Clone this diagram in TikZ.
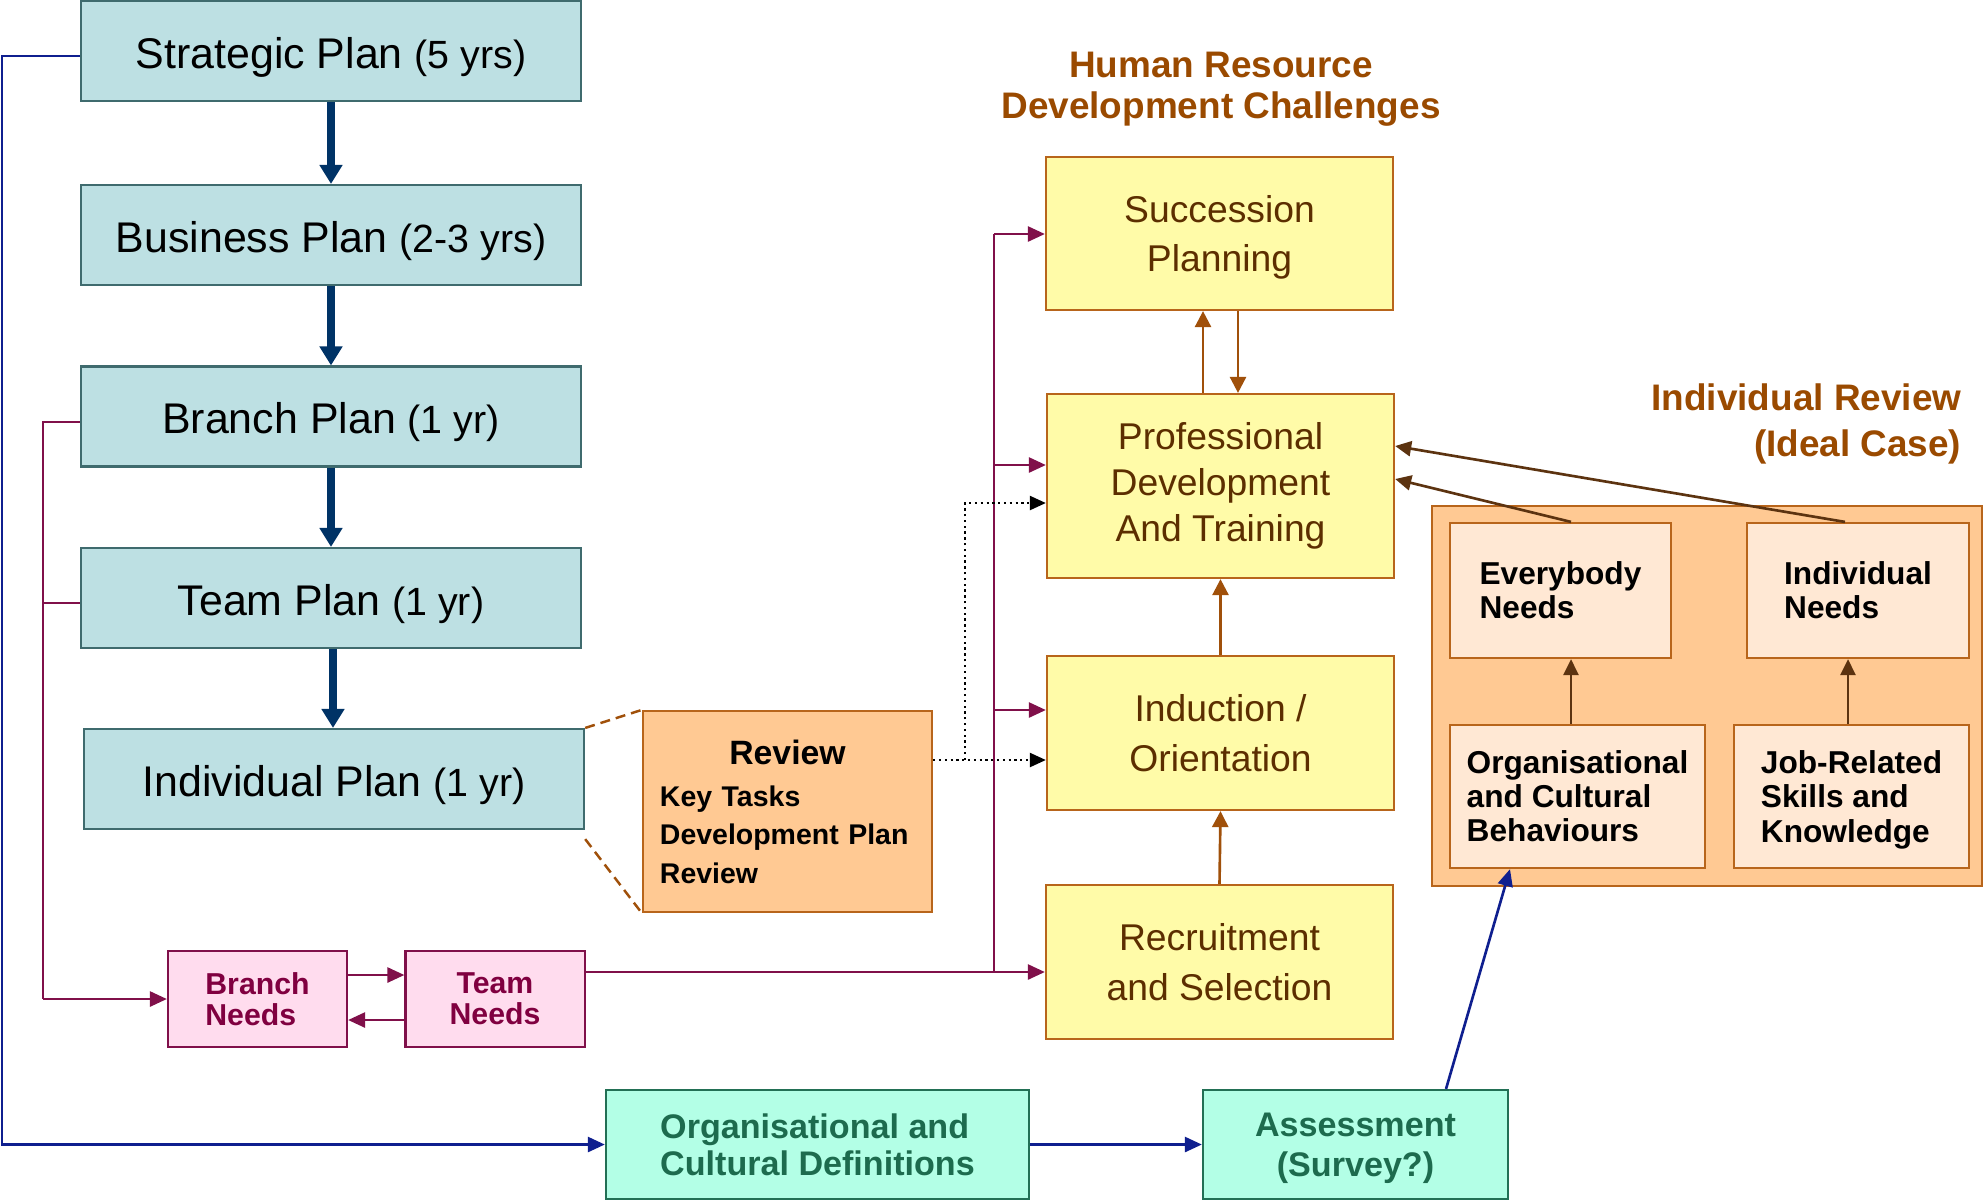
\documentclass[tikz,border=0pt]{standalone}
\usepackage{fontspec}
\setmainfont{Liberation Sans}
\usetikzlibrary{arrows.meta}

\definecolor{planfill}{HTML}{BDE0E3}
\definecolor{plandraw}{HTML}{3F6B6E}
\definecolor{planarrow}{HTML}{003366}
\definecolor{navyline}{HTML}{0F1F8F}
\definecolor{magline}{HTML}{80104A}
\definecolor{needfill}{HTML}{FFDCEE}
\definecolor{needtext}{HTML}{800040}
\definecolor{reviewfill}{HTML}{FFC993}
\definecolor{orangedraw}{HTML}{B8651B}
\definecolor{hrfill}{HTML}{FFFBA8}
\definecolor{hrtext}{HTML}{5C2E00}
\definecolor{titletext}{HTML}{9A4A00}
\definecolor{brownarrow}{HTML}{A0500A}
\definecolor{darkbrown}{HTML}{5C3310}
\definecolor{peachfill}{HTML}{FFE8D4}
\definecolor{aquafill}{HTML}{B3FFE6}
\definecolor{aquadraw}{HTML}{227055}
\definecolor{aquatext}{HTML}{1D6B4E}

% plan label: larger name, slightly smaller period in brackets
\newcommand\planlabel[2]{\fontsize{12.2}{14}\selectfont #1\ \fontsize{11.2}{14}\selectfont(#2)}

\begin{document}
\begin{tikzpicture}[x=0.01cm, y=-0.01cm,
  box/.style={draw, line width=0.6pt, inner sep=0pt, rectangle},
  plan/.style={box, fill=planfill, draw=plandraw, minimum width=5cm, minimum height=1cm,
    text height=0.434cm, text depth=0.091cm},
  need/.style={box, fill=needfill, draw=magline, text=needtext, minimum width=1.79cm,
    minimum height=0.96cm, font=\bfseries\fontsize{8.6}{8.8}\selectfont},
  hrbox/.style={box, fill=hrfill, draw=orangedraw, minimum width=3.47cm, text=hrtext,
    align=center, font=\fontsize{10.6}{14.2}\selectfont},
  inner/.style={box, fill=peachfill, draw=orangedraw, align=left,
    font=\bfseries\fontsize{9}{9.7}\selectfont},
  aqua/.style={box, fill=aquafill, draw=aquadraw, text=aquatext, minimum height=1.09cm,
    font=\bfseries\fontsize{9.7}{10.4}\selectfont},
  heading/.style={text=titletext, font=\bfseries\fontsize{10.5}{11.5}\selectfont, inner sep=0pt},
  thickarrow/.style={draw=planarrow, line width=2pt, -{Triangle[length=1.9mm,width=2.2mm]}},
  magl/.style={draw=magline, line width=0.75pt},
  magarrow/.style={magl, -{Triangle[length=1.7mm,width=1.5mm]}},
  navyl/.style={draw=navyline, line width=0.75pt},
  navyarrow/.style={navyl, -{Triangle[length=1.7mm,width=1.5mm]}},
  brarrow/.style={draw=brownarrow, line width=0.75pt, -{Triangle[length=1.6mm,width=1.6mm]}},
  dbarrow/.style={draw=darkbrown, line width=0.75pt, -{Triangle[length=1.6mm,width=1.5mm]}},
  dotarrow/.style={draw=black, line width=0.65pt, densely dotted, -{Triangle[length=1.6mm,width=1.4mm]}},
  linkdash/.style={draw=brownarrow, line width=0.7pt, dash pattern=on 1mm off 0.6mm}
]
\useasboundingbox (0,0) rectangle (1985,1202);
\fill[white] (0,0) rectangle (1985,1202);

% ---- planning cascade ----
\node[plan] (sp)  at (331,51)    {\planlabel{Strategic Plan}{5 yrs}};
\node[plan] (bp)  at (331,235)   {\planlabel{Business Plan}{2-3 yrs}};
\node[plan] (brp) at (331,416.5) {\planlabel{Branch Plan}{1 yr}};
\node[plan] (tp)  at (331,598)   {\planlabel{Team Plan}{1 yr}};
\node[plan] (ip)  at (334,779)   {\planlabel{Individual Plan}{1 yr}};

\draw[thickarrow] (sp.south) -- (bp.north);
\draw[thickarrow] (bp.south) -- (brp.north);
\draw[thickarrow] (brp.south) -- (tp.north);
\coordinate (tix) at (333,0);
\draw[thickarrow] (tp.south -| tix) -- (ip.north -| tix);

% ---- review of the individual plan ----
\node[box, fill=reviewfill, draw=orangedraw, minimum width=2.89cm, minimum height=2.01cm,
      text width=2.55cm, inner xsep=0.17cm, align=left,
      font=\bfseries\fontsize{8.1}{10.9}\selectfont] (rev) at (787.5,811.5)
  {\makebox[2.55cm][c]{\fontsize{9.6}{11}\selectfont Review}\\[1.2pt]
   Key Tasks\\Development Plan\\Review};
\draw[linkdash] (ip.north east) -- (rev.north west);
\draw[linkdash] ([yshift=-0.09cm]ip.south east) -- (rev.south west);

% ---- needs ----
\node[need, align=left]   (bn) at (257.5,999) {Branch\\Needs};
\node[need, align=center] (tn) at (495,999)   {Team\\Needs};

% ---- HR development challenges ----
\node[heading, align=center] (hrt) at (1221,89) {Human Resource\\Development Challenges};
\node[hrbox, minimum height=1.53cm, text depth=0pt] (succ) at (1219.5,233.5) {Succession\\Planning};
\node[hrbox, minimum height=1.84cm, font=\fontsize{10.6}{13}\selectfont] (pdt) at (1220.5,486)
  {Professional\\Development\\And Training};
\node[hrbox, minimum height=1.54cm] (ind) at (1220.5,733) {Induction /\\Orientation};
\node[hrbox, minimum height=1.54cm] (rec) at (1219.5,962) {Recruitment\\and Selection};

\coordinate (upx) at (1203,0);
\coordinate (dnx) at (1238,0);
\draw[brarrow] (pdt.north -| upx) -- (succ.south -| upx);
\draw[brarrow] (succ.south -| dnx) -- (pdt.north -| dnx);
\draw[brarrow] (ind.north) -- (pdt.south);
\draw[brarrow] (rec.north) -- (ind.south);

% ---- individual review ----
\node[heading, align=right, anchor=east, font=\bfseries\fontsize{10.5}{13}\selectfont]
  (irt) at (1962,424) {Individual Review\\(Ideal Case)};
\node[box, fill=reviewfill, draw=orangedraw, minimum width=5.5cm, minimum height=3.8cm]
  (irbox) at (1707,696) {};
\node[inner, minimum width=2.21cm, minimum height=1.35cm] (evn) at (1560.5,590.5) {Everybody\\Needs};
\node[inner, minimum width=2.22cm, minimum height=1.35cm] (inn) at (1858,590.5) {Individual\\Needs};
\node[inner, minimum width=2.55cm, minimum height=1.43cm] (ocb) at (1577.5,796.5)
  {Organisational\\and Cultural\\Behaviours};
\node[inner, minimum width=2.35cm, minimum height=1.43cm, text depth=0pt] (jrs) at (1851.5,796.5)
  {Job-Related\\Skills and\\Knowledge};

\coordinate (ex) at (1571,0);
\coordinate (jx) at (1848,0);
\coordinate (ix) at (1845,0);
\coordinate (yA) at (0,479);
\coordinate (yB) at (0,446);
\draw[dbarrow] (ocb.north -| ex) -- (evn.south -| ex);
\draw[dbarrow] (jrs.north -| jx) -- (inn.south -| jx);
\draw[dbarrow] (evn.north -| ex) -- (pdt.east |- yA);
\draw[dbarrow] (inn.north -| ix) -- (pdt.east |- yB);

% ---- organisational definitions and assessment ----
\node[aqua, minimum width=4.23cm, align=left] (ocd) at (817.5,1144.5)
  {Organisational and\\Cultural Definitions};
\node[aqua, minimum width=3.05cm, align=center, text depth=0pt,
  font=\bfseries\fontsize{9.7}{11.5}\selectfont]
  (asm) at (1355.5,1144.5) {Assessment\\(Survey?)};

% ---- connectors ----
\coordinate (ys) at (0,56);
\coordinate (bl) at (2,1144.5);
\draw[navyarrow] (sp.west |- ys) -| (bl) -- (ocd.west);
\draw[navyarrow] (ocd.east) -- (asm.west);
\coordinate (ax) at (1446,0);
\coordinate (ox) at (1510,0);
\draw[navyarrow] (asm.north -| ax) -- (ocb.south -| ox);

\coordinate (lmb) at (43,999);
\coordinate (yb1) at (0,422);
\coordinate (yt1) at (0,603);
\draw[magl] (brp.west |- yb1) -| (lmb);
\draw[magl] (tp.west |- yt1) -- (lmb |- yt1);
\draw[magarrow] (lmb) -- (bn.west);
\coordinate (yhi) at (0,975);
\coordinate (ylo) at (0,1020);
\draw[magarrow] (bn.east |- yhi) -- (tn.west |- yhi);
\draw[magarrow] (tn.west |- ylo) -- (bn.east |- ylo);

\coordinate (mtop) at (994,234);
\coordinate (mpd)  at (994,465);
\coordinate (mind) at (994,710);
\coordinate (mbot) at (994,972);
\draw[magl] (mbot) -- (mtop);
\draw[magarrow] (tn.east |- mbot) -- (rec.west |- mbot);
\draw[magarrow] (mtop) -- (succ.west |- mtop);
\draw[magarrow] (mpd) -- (pdt.west |- mpd);
\draw[magarrow] (mind) -- (ind.west |- mind);

\coordinate (dj) at (965,760);
\coordinate (yC) at (0,503);
\draw[dotarrow] (rev.east |- dj) -- (ind.west |- dj);
\draw[dotarrow] (dj) |- (pdt.west |- yC);
\end{tikzpicture}
\end{document}
